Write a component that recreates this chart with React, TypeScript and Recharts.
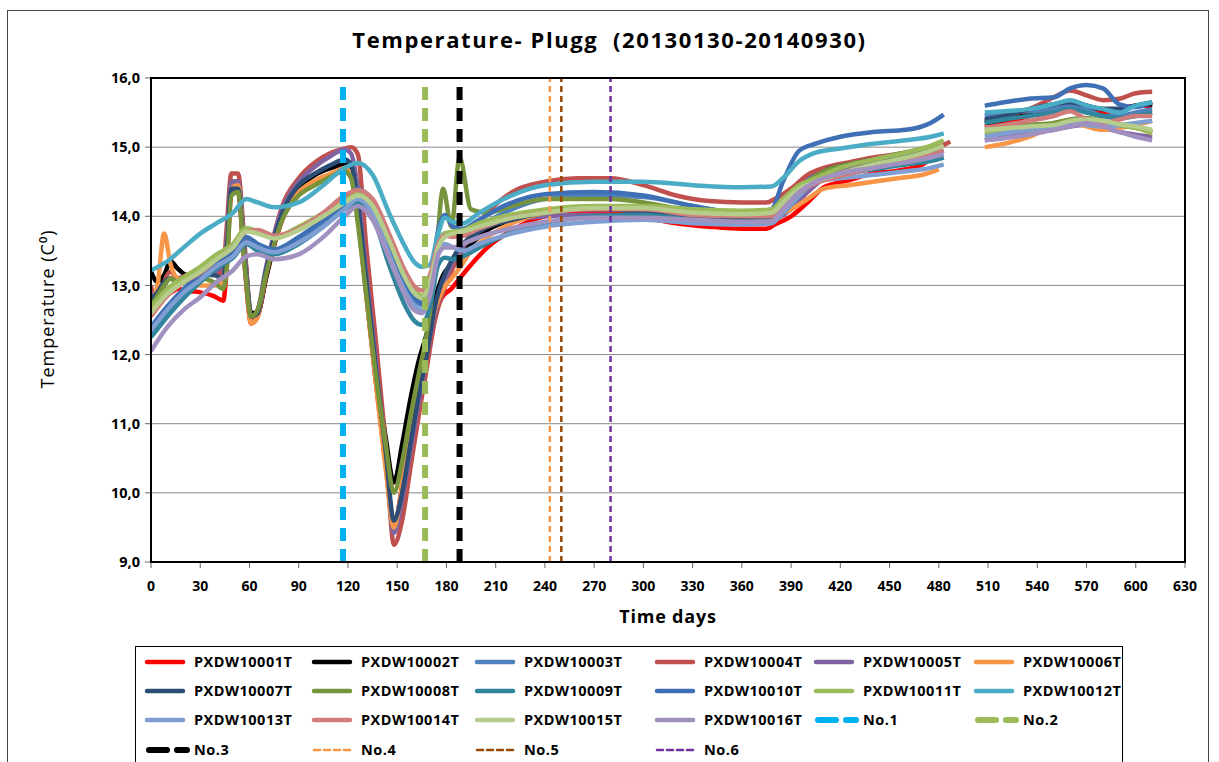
import React from 'react'
import { LineChart, Line, XAxis, YAxis, CartesianGrid, ReferenceLine } from 'recharts'

// Day grids: the "dip" loggers are sampled more densely around the big drops
const DIP_DAYS = [0, 4, 8, 12, 16, 22, 30, 38, 44, 46, 49, 53, 57, 61, 65, 70, 80, 90, 100, 110, 118, 122, 126, 131, 137, 143, 148, 153, 158, 163, 168, 173, 178, 183, 188, 195, 205, 220, 240, 260, 280, 300, 320, 340, 360, 375, 380, 390, 400, 410, 425, 440, 455, 470, 480, 487, 497, 508, 520, 535, 550, 560, 570, 580, 590, 600, 610]
const SMOOTH_DAYS = [0, 10, 20, 30, 40, 50, 58, 65, 75, 90, 105, 118, 126, 135, 145, 155, 160, 165, 170, 175, 179, 184, 190, 200, 215, 240, 270, 300, 330, 360, 378, 385, 395, 405, 420, 440, 460, 475, 483, 497, 508, 520, 535, 550, 560, 570, 580, 590, 600, 610]

const PXDW10001T = [12.6, 12.85, 12.95, 12.9, 12.95, 12.92, 12.9, 12.85, 12.78, 13.2,
  14.35, 14.35, 13.3, 12.45, 12.55, 13.1, 13.95, 14.35, 14.5, 14.6,
  14.65, 14.55, 14.0, 12.9, 11.6, 10.4, 9.5, 10.1, 10.8, 11.5,
  12.1, 12.6, 12.85, 12.95, 13.1, 13.3, 13.55, 13.8, 14.0, 14.05,
  14.05, 13.98, 13.9, 13.85, 13.82, 13.82, 13.88, 14.0, 14.2, 14.42,
  14.52, 14.62, 14.66, 14.75, 14.95, null, null, 15.3, 15.35, 15.45,
  15.55, 15.6, 15.55, 15.5, 15.55, 15.6, 15.6]
const PXDW10002T = [13.2, 13.05, 13.15, 13.35, 13.25, 13.15, 13.2, 13.25, 13.2, 13.5,
  14.5, 14.5, 13.5, 12.6, 12.6, 13.1, 14.0, 14.4, 14.6, 14.7,
  14.75, 14.7, 14.1, 13.0, 11.8, 10.8, 10.15, 10.7, 11.35, 11.9,
  12.3, 12.8, 13.15, 13.3, 13.45, 13.6, 13.8, 13.95, 14.05, 14.1,
  14.1, 14.05, 14.0, 13.95, 13.95, 13.95, 14.0, 14.15, 14.4, 14.6,
  14.72, 14.8, 14.85, 14.9, 14.98, null, null, 15.35, 15.4, 15.5,
  15.6, 15.65, 15.6, 15.55, 15.55, 15.6, 15.62]
const PXDW10004T = [13.0, 12.7, 13.05, 13.2, 13.1, 13.15, 13.2, 13.15, 13.2, 13.8,
  14.62, 14.62, 13.6, 12.5, 12.6, 13.2, 14.15, 14.55, 14.78, 14.92,
  14.98, 15.0, 14.9, 13.6, 12.2, 10.7, 9.25, 9.6, 10.35, 11.1,
  11.8, 12.5, 12.9, 13.2, 13.45, 13.75, 14.05, 14.35, 14.5, 14.55,
  14.55, 14.45, 14.3, 14.22, 14.2, 14.2, 14.25, 14.4, 14.6, 14.7,
  14.78, 14.85, 14.9, 14.95, 15.0, 15.08, null, 15.38, 15.45, 15.55,
  15.72, 15.82, 15.75, 15.68, 15.7, 15.78, 15.8]
const PXDW10005T = [12.9, 12.8, 13.0, 13.1, 13.05, 13.1, 13.2, 13.2, 13.3, 13.6,
  14.5, 14.5, 13.5, 12.55, 12.65, 13.25, 14.1, 14.5, 14.72, 14.88,
  14.97, 14.9, 14.4, 13.2, 11.9, 10.5, 9.42, 9.9, 10.6, 11.3,
  12.0, 12.6, 13.0, 13.3, 13.5, 13.7, 13.85, 13.95, 14.0, 14.02,
  14.02, 14.0, 13.95, 13.92, 13.9, 13.9, 13.95, 14.1, 14.35, 14.55,
  14.68, 14.75, 14.82, 14.88, 14.95, null, null, 15.1, 15.15, 15.2,
  15.25, 15.3, 15.32, 15.28, 15.22, 15.18, 15.15]
const PXDW10006T = [12.7, 13.0, 13.75, 13.3, 13.1, 13.05, 13.0, 13.0, 13.05, 13.5,
  14.4, 14.45, 13.4, 12.45, 12.55, 13.15, 14.0, 14.35, 14.52, 14.62,
  14.7, 14.6, 14.0, 12.9, 11.6, 10.35, 9.5, 10.1, 10.8, 11.5,
  12.1, 12.65, 12.95, 13.1, 13.25, 13.5, 13.7, 13.9, 14.05, 14.1,
  14.1, 14.05, 14.0, 13.97, 13.95, 13.95, 14.0, 14.1, 14.25, 14.4,
  14.45, 14.5, 14.55, 14.6, 14.68, null, null, 15.0, 15.05, 15.15,
  15.3, 15.38, 15.3, 15.25, 15.28, 15.32, 15.38]
const PXDW10007T = [12.8, 12.9, 13.05, 13.1, 13.05, 13.1, 13.15, 13.15, 13.1, 13.5,
  14.4, 14.4, 13.4, 12.55, 12.6, 13.2, 14.05, 14.45, 14.62, 14.75,
  14.82, 14.75, 14.2, 13.1, 11.8, 10.6, 9.6, 10.0, 10.7, 11.4,
  12.0, 12.7, 13.1, 13.35, 13.55, 13.7, 13.85, 13.95, 14.05, 14.1,
  14.1, 14.05, 14.0, 13.98, 13.95, 13.95, 14.0, 14.2, 14.45, 14.65,
  14.75, 14.82, 14.88, 14.95, 15.0, null, null, 15.4, 15.45, 15.55,
  15.62, 15.65, 15.6, 15.55, 15.55, 15.6, 15.65]
const PXDW10008T = [12.7, 12.85, 13.0, 13.1, 13.05, 13.05, 13.1, 13.05, 12.95, 13.2,
  14.3, 14.35, 13.3, 12.55, 12.65, 13.15, 13.95, 14.3, 14.45, 14.58,
  14.65, 14.55, 13.9, 12.9, 11.7, 10.7, 10.0, 10.45, 11.1, 11.7,
  12.3, 13.2, 14.4, 13.85, 14.85, 14.1, 14.05, 14.15, 14.25, 14.25,
  14.25, 14.2, 14.12, 14.08, 14.05, 14.05, 14.1, 14.3, 14.5, 14.65,
  14.75, 14.82, 14.9, 14.98, 15.05, null, null, 15.25, 15.28, 15.32,
  15.35, 15.4, 15.42, 15.38, 15.32, 15.28, 15.22]

const PXDW10003T = [12.3, 12.6, 12.88, 13.1, 13.3, 13.45, 13.65, 13.55, 13.5, 13.65,
  13.9, 14.15, 14.3, 14.1, 13.5, 12.95, 12.8, 12.72, 12.95, 13.55,
  13.75, 13.72, 13.72, 13.85, 14.05, 14.25, 14.3, 14.28, 14.15, 14.05,
  14.05, 14.2, 14.45, 14.62, 14.7, 14.78, 14.85, 14.9, 14.95, null,
  15.45, 15.5, 15.52, 15.55, 15.6, 15.55, 15.45, 15.45, 15.5, 15.55]
const PXDW10009T = [12.25, 12.55, 12.82, 13.05, 13.25, 13.4, 13.6, 13.5, 13.45, 13.6,
  13.85, 14.1, 14.2, 14.0, 13.3, 12.7, 12.5, 12.43, 12.7, 13.3,
  13.4, 13.38, 13.42, 13.55, 13.72, 13.9, 14.0, 14.02, 13.95, 13.92,
  13.92, 14.05, 14.3, 14.5, 14.6, 14.68, 14.75, 14.8, 14.85, null,
  15.35, 15.4, 15.45, 15.5, 15.55, 15.5, 15.45, 15.42, 15.45, 15.5]
const PXDW10010T = [12.4, 12.7, 12.95, 13.15, 13.35, 13.5, 13.7, 13.6, 13.52, 13.7,
  13.95, 14.2, 14.4, 14.2, 13.6, 13.05, 12.85, 12.75, 13.0, 13.8,
  14.02, 13.85, 13.82, 13.95, 14.15, 14.32, 14.35, 14.3, 14.15, 14.05,
  14.1, 14.5, 14.95, 15.05, 15.15, 15.22, 15.25, 15.35, 15.47, null,
  15.6, 15.65, 15.7, 15.72, 15.85, 15.9, 15.85, 15.62, 15.58, 15.65]
const PXDW10011T = [12.69, 12.95, 13.12, 13.27, 13.45, 13.6, 13.83, 13.78, 13.7, 13.85,
  14.05, 14.25, 14.35, 14.2, 13.7, 13.15, 12.95, 12.85, 13.1, 13.6,
  13.75, 13.78, 13.8, 13.9, 14.0, 14.1, 14.15, 14.15, 14.1, 14.08,
  14.1, 14.25, 14.45, 14.55, 14.7, 14.82, 14.92, 15.02, 15.1, null,
  15.2, 15.22, 15.25, 15.3, 15.35, 15.4, 15.38, 15.32, 15.28, 15.2]
const PXDW10012T = [13.22, 13.35, 13.55, 13.75, 13.9, 14.05, 14.25, 14.2, 14.13, 14.2,
  14.45, 14.7, 14.77, 14.6, 14.05, 13.55, 13.35, 13.27, 13.3, 13.75,
  13.98, 13.92, 13.9, 14.05, 14.25, 14.45, 14.5, 14.5, 14.45, 14.42,
  14.43, 14.55, 14.8, 14.92, 14.98, 15.05, 15.1, 15.15, 15.2, null,
  15.5, 15.52, 15.55, 15.62, 15.68, 15.6, 15.55, 15.5, 15.6, 15.65]
const PXDW10013T = [12.35, 12.65, 12.9, 13.08, 13.28, 13.42, 13.62, 13.55, 13.48, 13.62,
  13.85, 14.1, 14.25, 14.05, 13.45, 12.9, 12.72, 12.65, 12.9, 13.45,
  13.6, 13.55, 13.5, 13.6, 13.72, 13.85, 13.92, 13.95, 13.9, 13.88,
  13.9, 14.05, 14.3, 14.5, 14.55, 14.6, 14.65, 14.7, 14.75, null,
  15.15, 15.2, 15.25, 15.3, 15.35, 15.32, 15.3, 15.32, 15.35, 15.38]
const PXDW10014T = [12.55, 12.85, 13.05, 13.18, 13.38, 13.55, 13.78, 13.8, 13.72, 13.82,
  14.05, 14.3, 14.38, 14.25, 13.75, 13.2, 13.0, 12.93, 13.15, 13.6,
  13.72, 13.7, 13.72, 13.82, 13.95, 14.05, 14.1, 14.1, 14.02, 14.0,
  14.0, 14.15, 14.35, 14.48, 14.58, 14.7, 14.8, 14.88, 14.95, null,
  15.28, 15.32, 15.38, 15.45, 15.52, 15.4, 15.35, 15.4, 15.45, 15.45]
const PXDW10015T = [12.6, 12.88, 13.05, 13.2, 13.38, 13.55, 13.78, 13.75, 13.68, 13.8,
  14.0, 14.2, 14.3, 14.15, 13.65, 13.1, 12.9, 12.82, 13.05, 13.55,
  13.7, 13.75, 13.78, 13.85, 13.95, 14.05, 14.12, 14.12, 14.05, 14.03,
  14.05, 14.2, 14.4, 14.5, 14.62, 14.75, 14.85, 14.95, 15.02, null,
  15.25, 15.27, 15.3, 15.32, 15.38, 15.4, 15.38, 15.33, 15.3, 15.25]
const PXDW10016T = [12.05, 12.4, 12.65, 12.83, 13.05, 13.22, 13.42, 13.45, 13.38, 13.45,
  13.7, 14.0, 14.15, 13.95, 13.4, 12.85, 12.65, 12.6, 12.85, 13.45,
  13.55, 13.55, 13.6, 13.7, 13.8, 13.92, 13.98, 13.98, 13.95, 13.92,
  13.93, 14.1, 14.35, 14.5, 14.62, 14.7, 14.78, 14.85, 14.9, null,
  15.1, 15.13, 15.18, 15.25, 15.3, 15.35, 15.3, 15.22, 15.15, 15.1]

// event markers (day numbers)
const MARKER_NAMES = ['No.1', 'No.2', 'No.3', 'No.4', 'No.5', 'No.6']
const MARKER_DAYS = [117, 167, 188, 243, 250, 280]

const X_TICKS = [0, 30, 60, 90, 120, 150, 180, 210, 240, 270, 300, 330, 360, 390, 420, 450, 480, 510, 540, 570, 600, 630]
const Y_TICKS = [9, 10, 11, 12, 13, 14, 15, 16]

const FONT = '"Open Sans", "Noto Sans", sans-serif'

const series = [
  { name: 'PXDW10001T', days: DIP_DAYS, values: PXDW10001T, color: '#ff0000' },
  { name: 'PXDW10002T', days: DIP_DAYS, values: PXDW10002T, color: '#000000' },
  { name: 'PXDW10003T', days: SMOOTH_DAYS, values: PXDW10003T, color: '#4f81bd' },
  { name: 'PXDW10004T', days: DIP_DAYS, values: PXDW10004T, color: '#c0504d' },
  { name: 'PXDW10005T', days: DIP_DAYS, values: PXDW10005T, color: '#8064a2' },
  { name: 'PXDW10006T', days: DIP_DAYS, values: PXDW10006T, color: '#f79646' },
  { name: 'PXDW10007T', days: DIP_DAYS, values: PXDW10007T, color: '#2c4d75' },
  { name: 'PXDW10008T', days: DIP_DAYS, values: PXDW10008T, color: '#77933c' },
  { name: 'PXDW10009T', days: SMOOTH_DAYS, values: PXDW10009T, color: '#31859c' },
  { name: 'PXDW10010T', days: SMOOTH_DAYS, values: PXDW10010T, color: '#3f6fb5' },
  { name: 'PXDW10011T', days: SMOOTH_DAYS, values: PXDW10011T, color: '#9bbb59' },
  { name: 'PXDW10012T', days: SMOOTH_DAYS, values: PXDW10012T, color: '#4bacc6' },
  { name: 'PXDW10013T', days: SMOOTH_DAYS, values: PXDW10013T, color: '#7f9fd3' },
  { name: 'PXDW10014T', days: SMOOTH_DAYS, values: PXDW10014T, color: '#d07c7a' },
  { name: 'PXDW10015T', days: SMOOTH_DAYS, values: PXDW10015T, color: '#b5cc8a' },
  { name: 'PXDW10016T', days: SMOOTH_DAYS, values: PXDW10016T, color: '#a191c0' },
]

const markerStyles = [
  { color: '#00b0f0', width: 6, dash: '13 8', thick: true },
  { color: '#9bbb59', width: 6, dash: '13 8', thick: true },
  { color: '#000000', width: 6, dash: '13 8', thick: true },
  { color: '#f79646', width: 2.5, dash: '6 4', thick: false },
  { color: '#984807', width: 2.5, dash: '6 4', thick: false },
  { color: '#7030a0', width: 2.5, dash: '6 4', thick: false },
]

const fmt = (v: number) => v.toFixed(1).replace('.', ',')

// legend placement (text x per column, row centres)
const LEGEND_COLS = [193, 360, 523, 703, 862, 1022]
const LEGEND_ROWS = [661, 690, 719, 749]

function LegendBox() {
  const items = [
    ...series.map((s) => ({ name: s.name, color: s.color, width: 4.5, dash: undefined as string | undefined, thick: false })),
    ...MARKER_NAMES.map((n, i) => ({ name: n, color: markerStyles[i].color, width: markerStyles[i].thick ? 6 : 2.5, dash: markerStyles[i].thick ? '18 10' : '6 4', thick: markerStyles[i].thick })),
  ]
  return (
    <div style={{ position: 'absolute', left: 135, top: 646, width: 988, height: 130, border: '1px solid #000', boxSizing: 'border-box' }}>
      {items.map((it, i) => {
        const col = i % 6
        const row = Math.floor(i / 6)
        const tx = LEGEND_COLS[col] - 135
        const cy = LEGEND_ROWS[row] - 646
        const x1 = it.thick ? tx - 48 : tx - 50
        const x2 = it.thick ? tx - 4 : tx - 8
        return (
          <React.Fragment key={it.name}>
            <svg style={{ position: 'absolute', left: 0, top: 0, overflow: 'visible' }} width={1} height={1}>
              <line x1={x1 + 3} y1={cy} x2={x2 - 3} y2={cy} stroke={it.color} strokeWidth={it.width} strokeDasharray={it.dash} strokeLinecap="round" />
            </svg>
            <span style={{ position: 'absolute', left: tx, top: cy - 11, lineHeight: '22px', fontFamily: FONT, fontWeight: 700, fontSize: 14.5, letterSpacing: 0.5, color: '#000', whiteSpace: 'nowrap' }}>
              {it.name}
            </span>
          </React.Fragment>
        )
      })}
    </div>
  )
}

export default function App() {
  return (
    <div style={{ position: 'absolute', left: 0, top: 0, width: 1219, height: 762, overflow: 'hidden', background: '#fff' }}>
      <div style={{ position: 'absolute', left: 7, top: 10, width: 1202, height: 780, border: '1.5px solid #444', boxSizing: 'border-box' }} />
      <div style={{ position: 'absolute', left: 0, width: 1219, top: 24, textAlign: 'center', fontFamily: FONT, fontWeight: 700, fontSize: 22, letterSpacing: 1.6, color: '#000', whiteSpace: 'pre' }}>
        {'Temperature- Plugg  (20130130-20140930)'}
      </div>
      <div style={{ position: 'absolute', left: 47 - 110, top: 309 - 13, width: 220, height: 26, lineHeight: '26px', textAlign: 'center', transform: 'rotate(-90deg)', fontFamily: FONT, fontSize: 18, letterSpacing: 1, color: '#000' }}>
        Temperature (C⁰)
      </div>
      <div style={{ position: 'absolute', left: 568, width: 200, top: 604, textAlign: 'center', fontFamily: FONT, fontWeight: 700, fontSize: 18, letterSpacing: 0.8, color: '#000' }}>
        Time days
      </div>
      <div style={{ position: 'absolute', left: 0, top: 0 }}>
        <LineChart width={1219} height={762} margin={{ top: 78, right: 34, bottom: 170, left: 91 }}>
          <CartesianGrid vertical={false} stroke="#8a8a8a" strokeWidth={1} />
          <XAxis
            type="number"
            dataKey="day"
            domain={[0, 630]}
            ticks={X_TICKS}
            interval={0}
            height={30}
            tickSize={6}
            tickMargin={13}
            axisLine={{ stroke: '#000', strokeWidth: 2 }}
            tickLine={{ stroke: '#666' }}
            tick={{ fill: '#000', fontSize: 14, fontWeight: 700, fontFamily: FONT }}
            allowDataOverflow
          />
          <YAxis
            type="number"
            domain={[9, 16]}
            ticks={Y_TICKS}
            interval={0}
            width={60}
            tickSize={6}
            tickMargin={5}
            tickFormatter={fmt}
            axisLine={{ stroke: '#000', strokeWidth: 2 }}
            tickLine={{ stroke: '#666' }}
            tick={{ fill: '#000', fontSize: 14.5, fontWeight: 700, fontFamily: FONT }}
            allowDataOverflow
          />
          {series.map((s) => (
            <Line
              key={s.name}
              name={s.name}
              data={s.days.map((d, i) => ({ day: d, v: s.values[i] }))}
              dataKey="v"
              type="monotone"
              stroke={s.color}
              strokeWidth={4.5}
              dot={false}
              activeDot={false}
              connectNulls={false}
              isAnimationActive={false}
            />
          ))}
          {MARKER_DAYS.map((d, i) => (
            <ReferenceLine
              key={MARKER_NAMES[i]}
              x={d}
              stroke={markerStyles[i].color}
              strokeWidth={markerStyles[i].width}
              strokeDasharray={markerStyles[i].dash}
            />
          ))}
        </LineChart>
      </div>
      <div style={{ position: 'absolute', left: 150, top: 77, width: 1036, height: 486, border: '2.5px solid #000', boxSizing: 'border-box', pointerEvents: 'none' }} />
      <LegendBox />
    </div>
  )
}
